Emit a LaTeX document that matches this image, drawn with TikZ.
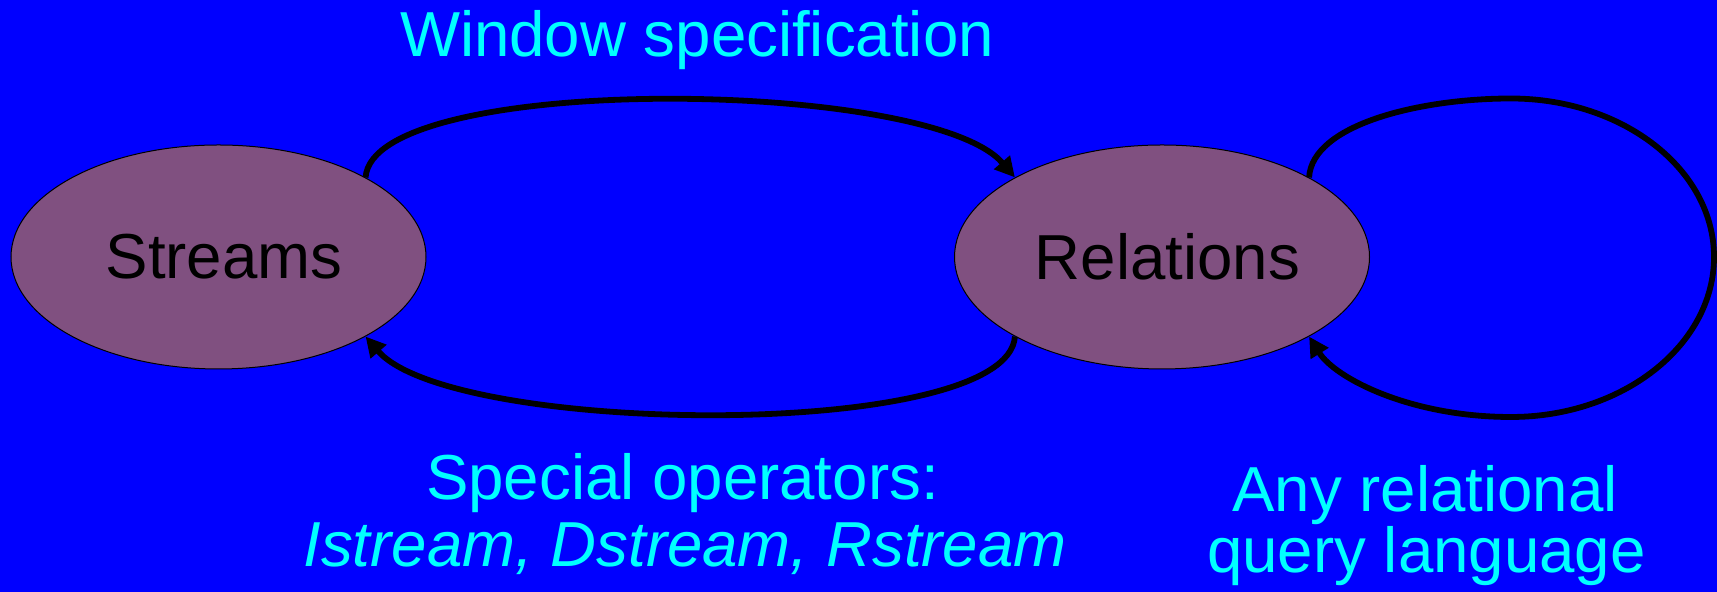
\documentclass[tikz,border=0pt]{standalone}
\usepackage{fontspec}
\setmainfont{Liberation Sans}
\usetikzlibrary{arrows.meta,shapes.geometric}

\definecolor{slideblue}{RGB}{0,0,255}
\definecolor{nodepurple}{RGB}{128,80,128}
\definecolor{labelcyan}{RGB}{0,255,255}

\begin{document}
\begin{tikzpicture}[x=0.5pt,y=0.5pt]
\fill[slideblue] (0,0) rectangle (1717,592);
\useasboundingbox (0,0) rectangle (1717,592);

\begin{scope}[every node/.style={ellipse,draw=black,line width=0.5pt,fill=nodepurple,
              inner sep=0pt,minimum width=207.5pt,minimum height=112pt,
              font=\fontsize{31.8}{38}\selectfont}]
    \node (S) at (218.5,335) {\hspace*{5.5pt}Streams};
    \node (R) at (1162,335) {\hspace*{5.5pt}Relations};
\end{scope}

\begin{scope}[>={Triangle[length=10pt,width=10pt]},
              every path/.style={draw=black,line width=2.9pt}]
    \draw [->] (S.north east) .. controls +(7,105) and +(-86,100) .. (R.north west);
    \draw [->] (R.south west) .. controls +(-7,-105) and +(86,-100) .. (S.south east);
    \draw [->] (R.north east) .. controls +(3,53) and (1420,493.5) .. (1511,493.5)
                              .. controls (1623,493.5) and (1714,422.5) .. (1714,335)
                              .. controls (1714,247) and (1623,175) .. (1511,175)
                              .. controls (1410,175) and (1335,214) .. (R.south east);
\end{scope}

\begin{scope}[every node/.style={anchor=base,text=labelcyan,inner sep=0pt,
              font=\fontsize{31.8}{38}\selectfont}]
    \node (win) at (697,535.3) {Window specification};
    \node (ops) at (682.5,92) {Special operators:};
    \node (opsnames) at (685,25.3) {\itshape Istream, Dstream, Rstream};
    \node (anyrel) at (1425,80.3) {Any relational};
    \node (query) at (1426.5,19) {query language};
\end{scope}
\end{tikzpicture}
\end{document}
